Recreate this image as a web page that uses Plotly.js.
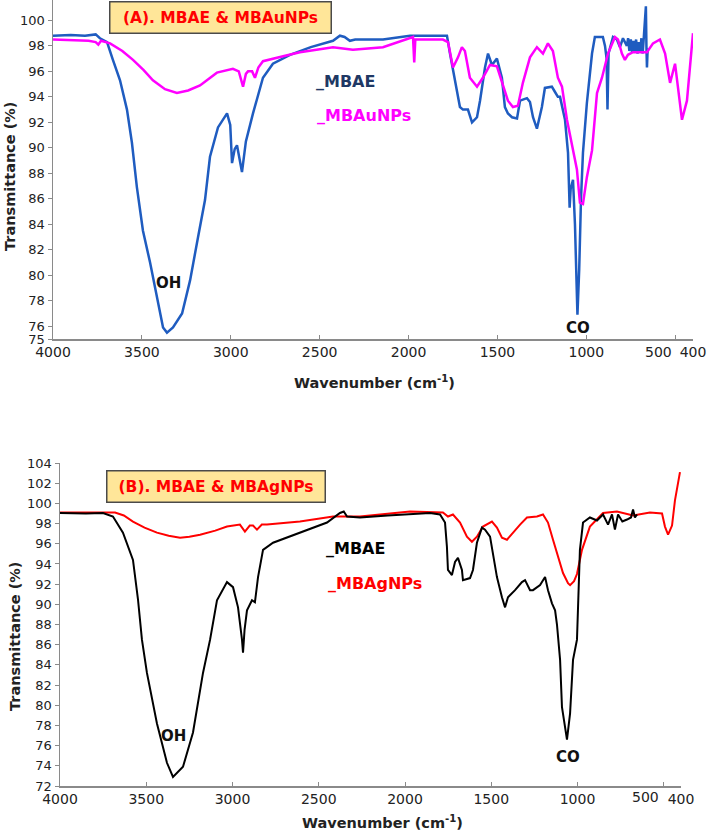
<!DOCTYPE html>
<html>
<head>
<meta charset="utf-8">
<script src="https://cdn.plot.ly/plotly-3.0.1.min.js"></script>
<style>html,body{margin:0;padding:0;background:#fff;}#chart{width:710px;height:833px;}</style>
</head>
<body>
<div id="chart"></div>
<script>
// ---------- Panel A data ----------
const wnA_MBAE = [4000,3900,3820,3760,3736,3696,3663,3623,3584,3556,3528,3494,3454,3415,3381,3359,3325,3274,3229,3184,3145,3117,3072,3021,3003,2993,2978,2965,2950,2937,2915,2875,2819,2763,2667,2550,2425,2386,2360,2330,2300,2144,1992,1900,1800,1784,1767,1739,1711,1694,1666,1643,1627,1615,1598,1570,1553,1531,1503,1475,1458,1441,1418,1390,1373,1334,1317,1300,1278,1250,1233,1194,1177,1160,1148,1120,1103,1094,1088,1075,1064,1050,1040,1030,1019,997,968,952,907,895,886,881,875,850,828,811,794,772,765,758,750,742,735,728,720,712,705,698,690,683,676,670,665,662,659,655];
const tA_MBAE = [98.8,98.85,98.8,98.9,98.6,98.3,96.9,95.3,93.0,90.4,86.9,83.5,81.0,78.3,75.9,75.5,75.9,77.0,79.6,83.0,85.9,89.3,91.6,92.7,91.8,88.8,89.9,90.2,89.2,88.1,90.5,92.7,95.5,96.6,97.3,97.9,98.4,98.8,98.7,98.4,98.5,98.5,98.8,98.8,98.8,98.8,97.4,95.3,93.2,93.0,93.0,92.0,92.2,92.4,93.7,96.3,97.4,96.5,97.0,95.5,93.2,92.7,92.4,92.3,93.7,93.9,93.6,92.4,91.5,93.2,94.7,94.8,94.4,94.0,94.0,92.2,89.6,85.3,86.8,87.5,84.0,76.9,80.5,86.0,89.6,93.5,97.4,98.7,98.7,98.0,97.0,93.0,97.4,98.7,98.5,97.9,98.6,98.0,98.6,97.6,98.5,97.5,98.4,97.6,98.5,97.4,98.3,97.5,98.6,97.4,98.8,100.0,101.1,98.0,96.3,97.8];

const wnA_MBAuNPs = [4000,3900,3800,3760,3745,3730,3679,3610,3550,3490,3438,3370,3303,3240,3173,3078,3020,2988,2955,2931,2915,2903,2880,2864,2845,2819,2700,2611,2425,2313,2144,1992,1975,1968,1962,1807,1778,1750,1722,1700,1683,1655,1615,1582,1542,1503,1475,1441,1413,1385,1357,1317,1278,1244,1216,1188,1160,1137,1109,1081,1053,1036,1019,997,968,940,912,878,839,822,800,783,766,738,659,625,586,557,529,501,462,434,400];
const tA_MBAuNPs = [98.5,98.45,98.4,98.3,98.1,98.4,98.2,97.6,96.9,96.1,95.3,94.6,94.3,94.5,94.9,95.9,96.1,96.2,96.0,94.8,95.8,96.0,96.0,95.5,96.3,96.8,97.2,97.5,97.9,97.7,97.9,98.6,98.7,96.7,98.5,98.5,98.3,96.3,97.1,97.9,97.6,95.5,94.8,95.5,96.5,96.4,95.1,93.7,93.2,93.3,95.1,97.1,97.9,97.4,98.2,97.6,95.5,94.8,92.2,90.1,88.3,85.7,85.6,87.7,89.8,94.3,95.5,97.4,98.7,98.5,97.4,96.9,97.3,97.5,97.5,98.2,98.5,97.4,95.1,96.6,92.2,93.7,99.0];

// ---------- Panel B data ----------
const wnB_MBAE = [4000,3850,3751,3693,3635,3577,3548,3525,3496,3438,3380,3345,3287,3229,3171,3130,3090,3032,2997,2968,2945,2939,2930,2916,2887,2870,2852,2823,2765,2609,2452,2377,2355,2336,2261,2100,1971,1855,1797,1768,1757,1751,1728,1710,1693,1670,1664,1623,1606,1583,1554,1536,1507,1490,1467,1438,1420,1403,1362,1322,1304,1275,1258,1217,1188,1171,1148,1130,1119,1101,1090,1061,1043,1026,1003,986,968,928,887,852,823,800,783,765,740,713,690,678,667,655];
const tB_MBAE = [99.05,99.0,99.05,98.7,97.1,94.4,90.5,86.5,83.2,78.2,74.3,72.9,73.9,77.3,83.2,86.5,90.4,92.2,91.7,89.7,86.5,85.2,87.5,89.4,90.4,90.2,92.7,95.4,96.1,97.1,98.1,99.05,99.2,98.7,98.6,98.8,98.9,99.05,98.9,98.1,95.7,93.4,92.9,94.2,94.6,93.4,92.4,92.6,93.4,96.1,97.6,97.4,96.7,95.1,92.7,90.7,89.7,90.7,91.4,92.2,92.4,91.4,91.4,91.9,92.7,91.4,90.1,89.4,88.0,84.5,79.8,76.6,79.2,84.5,86.5,95.4,98.1,98.6,98.3,98.9,97.9,98.9,97.4,98.9,98.2,98.4,98.6,99.4,98.6,98.9];

const wnB_MBAgNPs = [4000,3850,3681,3630,3577,3510,3438,3370,3304,3250,3188,3100,3032,2957,2928,2900,2881,2858,2830,2800,2609,2417,2261,1971,1780,1751,1722,1681,1641,1612,1583,1548,1496,1467,1438,1409,1374,1333,1293,1235,1200,1171,1142,1113,1084,1055,1043,1020,1003,974,928,852,771,678,580,510,493,475,452,435,417,406];
const tB_MBAgNPs = [99.1,99.1,99.1,98.8,98.2,97.6,97.1,96.8,96.6,96.7,96.9,97.3,97.7,97.9,97.2,97.8,97.8,97.4,97.9,97.9,98.2,98.7,98.7,99.2,99.1,98.7,98.9,98.1,96.7,96.2,96.7,97.7,98.2,97.6,96.6,96.4,97.1,97.9,98.6,98.7,98.9,98.1,96.4,94.7,93.1,92.1,91.9,92.3,93.0,95.4,97.7,99.05,99.2,98.8,99.1,99.0,97.7,96.9,97.8,100.3,102.3,103.1];

// ---------- Axis ticks ----------
const xTicks = [4000,3500,3000,2500,2000,1500,1000,500,400];
const xTickLabels = ['4000','3500','3000','2500','2000','1500','1000','500','400'];
const yTicksA = [75,76,78,80,82,84,86,88,90,92,94,96,98,100,102];
const yTicksB = [72,74,76,78,80,82,84,86,88,90,92,94,96,98,100,102,104];

// ---------- Layout helpers ----------
const W = 710, H = 833;
const px = x => x / W;
const py = y => 1 - y / H;
const FONT = 'DejaVu Sans, Arial, sans-serif';
// In the reference the "500" label sits left of its tick (it abuts "400"),
// so it is drawn as a separate text; the tick itself stays on the axis.
const xTickText = xTickLabels.map(s => s === '500' ? '' : s);

const traces = [
  {x: wnA_MBAE, y: tA_MBAE, xaxis: 'x', yaxis: 'y', type: 'scatter', mode: 'lines', line: {color: '#1F5CC0', width: 2.5}, hoverinfo: 'skip'},
  {x: wnA_MBAuNPs, y: tA_MBAuNPs, xaxis: 'x', yaxis: 'y', type: 'scatter', mode: 'lines', line: {color: '#FF00FF', width: 2.5}, hoverinfo: 'skip'},
  {x: wnB_MBAgNPs, y: tB_MBAgNPs, xaxis: 'x2', yaxis: 'y2', type: 'scatter', mode: 'lines', line: {color: '#FF0000', width: 2}, hoverinfo: 'skip'},
  {x: wnB_MBAE, y: tB_MBAE, xaxis: 'x2', yaxis: 'y2', type: 'scatter', mode: 'lines', line: {color: '#000000', width: 2}, hoverinfo: 'skip'}
];

const axCommon = {
  showgrid: false, zeroline: false, showline: true, linecolor: '#8a8a8a', linewidth: 1.5,
  tickcolor: '#8a8a8a', ticklen: 4, tickwidth: 1
};
const xFont = {family: FONT, size: 14, color: '#222'};
const yFont = {family: FONT, size: 13, color: '#222'};

const layout = {
  width: W, height: H,
  margin: {l: 0, r: 0, t: 0, b: 0},
  paper_bgcolor: '#fff', plot_bgcolor: '#fff',
  showlegend: false,
  xaxis: Object.assign({}, axCommon, {domain: [px(53), px(693)], range: [4000, 400], anchor: 'y', tickmode: 'array', tickvals: xTicks, ticktext: xTickText, ticks: 'inside', tickangle: 0, tickfont: xFont}),
  yaxis: Object.assign({}, axCommon, {domain: [py(339), 1], range: [75, 101.6], anchor: 'x', tickmode: 'array', tickvals: yTicksA, ticktext: yTicksA.map(String), ticks: 'outside', tickfont: yFont}),
  xaxis2: Object.assign({}, axCommon, {domain: [px(60), px(681)], range: [4000, 400], anchor: 'y2', tickmode: 'array', tickvals: xTicks, ticktext: xTickText, ticks: 'inside', tickangle: 0, tickfont: xFont}),
  yaxis2: Object.assign({}, axCommon, {domain: [py(786), py(463)], range: [72, 104], anchor: 'x2', tickmode: 'array', tickvals: yTicksB, ticktext: yTicksB.map(String), ticks: 'outside', tickfont: yFont}),
  annotations: [
    // panel titles
    {xref: 'paper', yref: 'paper', x: px(220.5), y: py(17), xanchor: 'center', yanchor: 'middle', showarrow: false,
     text: '<b>(A). MBAE & MBAuNPs</b>', font: {family: FONT, size: 15.5, color: '#FF0000'},
     bgcolor: '#FFE699', bordercolor: '#4a4a4a', borderwidth: 1.5, borderpad: 1, width: 218, height: 28},
    {xref: 'paper', yref: 'paper', x: px(215.5), y: py(486), xanchor: 'center', yanchor: 'middle', showarrow: false,
     text: '<b>(B). MBAE & MBAgNPs</b>', font: {family: FONT, size: 15.5, color: '#FF0000'},
     bgcolor: '#FFE699', bordercolor: '#4a4a4a', borderwidth: 1.5, borderpad: 1, width: 215, height: 28},
    // "500" tick labels placed as in the reference
    {xref: 'paper', yref: 'paper', x: px(674), y: py(352), xanchor: 'right', yanchor: 'middle', showarrow: false,
     text: '500', font: xFont},
    {xref: 'paper', yref: 'paper', x: px(661), y: py(797), xanchor: 'right', yanchor: 'middle', showarrow: false,
     text: '500', font: xFont},
    // legend-like labels
    {xref: 'paper', yref: 'paper', x: px(314), y: py(81), xanchor: 'left', yanchor: 'middle', showarrow: false,
     text: '<b>_MBAE</b>', font: {family: FONT, size: 16, color: '#1F3864'}},
    {xref: 'paper', yref: 'paper', x: px(315), y: py(115), xanchor: 'left', yanchor: 'middle', showarrow: false,
     text: '<b>_MBAuNPs</b>', font: {family: FONT, size: 16, color: '#FF00FF'}},
    {xref: 'paper', yref: 'paper', x: px(324), y: py(548), xanchor: 'left', yanchor: 'middle', showarrow: false,
     text: '<b>_MBAE</b>', font: {family: FONT, size: 16, color: '#000000'}},
    {xref: 'paper', yref: 'paper', x: px(326), y: py(583), xanchor: 'left', yanchor: 'middle', showarrow: false,
     text: '<b>_MBAgNPs</b>', font: {family: FONT, size: 16, color: '#FF0000'}},
    // band labels
    {xref: 'paper', yref: 'paper', x: px(168), y: py(283), xanchor: 'center', yanchor: 'middle', showarrow: false,
     text: '<b>OH</b>', font: {family: FONT, size: 15, color: '#111'}},
    {xref: 'paper', yref: 'paper', x: px(578), y: py(328), xanchor: 'center', yanchor: 'middle', showarrow: false,
     text: '<b>CO</b>', font: {family: FONT, size: 15, color: '#111'}},
    {xref: 'paper', yref: 'paper', x: px(173), y: py(736), xanchor: 'center', yanchor: 'middle', showarrow: false,
     text: '<b>OH</b>', font: {family: FONT, size: 15, color: '#111'}},
    {xref: 'paper', yref: 'paper', x: px(568), y: py(757), xanchor: 'center', yanchor: 'middle', showarrow: false,
     text: '<b>CO</b>', font: {family: FONT, size: 15, color: '#111'}},
    // axis titles
    {xref: 'paper', yref: 'paper', x: px(10), y: py(176), xanchor: 'center', yanchor: 'middle', showarrow: false, textangle: -90,
     text: '<b>Transmittance (%)</b>', font: {family: FONT, size: 14.5, color: '#222'}},
    {xref: 'paper', yref: 'paper', x: px(15), y: py(636), xanchor: 'center', yanchor: 'middle', showarrow: false, textangle: -90,
     text: '<b>Transmittance (%)</b>', font: {family: FONT, size: 14.5, color: '#222'}},
    {xref: 'paper', yref: 'paper', x: px(374), y: py(382), xanchor: 'center', yanchor: 'middle', showarrow: false,
     text: '<b>Wavenumber (cm<sup>-1</sup>)</b>', font: {family: FONT, size: 14.5, color: '#222'}},
    {xref: 'paper', yref: 'paper', x: px(383), y: py(822), xanchor: 'center', yanchor: 'middle', showarrow: false,
     text: '<b>Wavenumber (cm<sup>-1</sup>)</b>', font: {family: FONT, size: 14.5, color: '#222'}}
  ]
};

Plotly.newPlot('chart', traces, layout, {staticPlot: true, displayModeBar: false});
</script>
</body>
</html>
